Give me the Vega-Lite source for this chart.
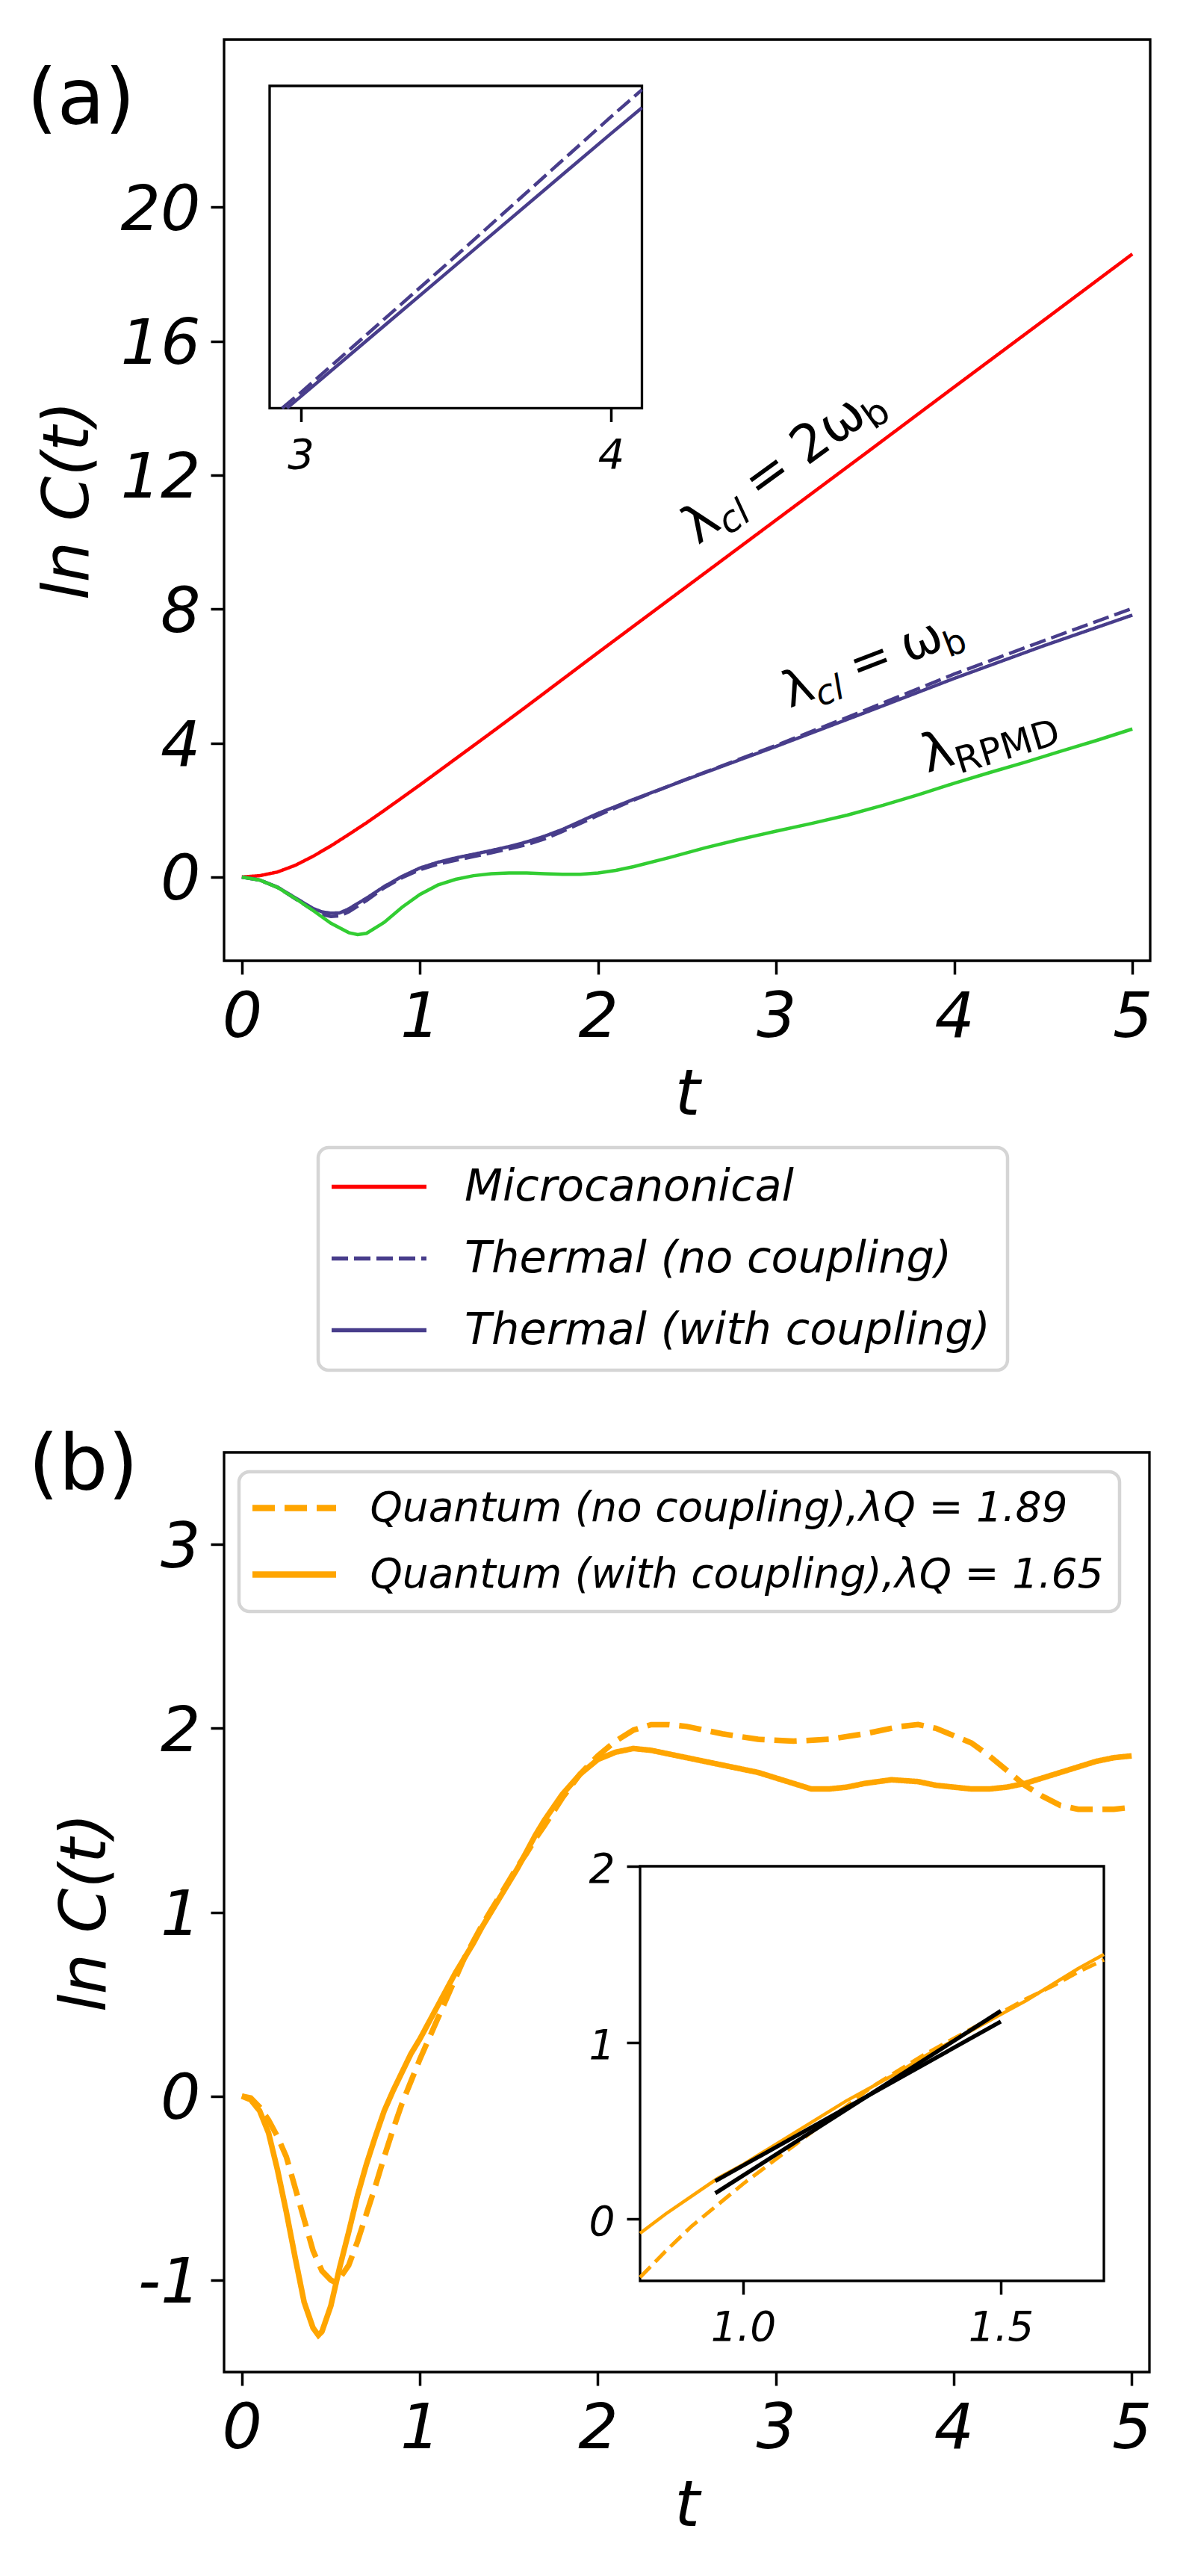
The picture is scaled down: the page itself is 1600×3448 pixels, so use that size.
{
"$schema": "https://vega.github.io/schema/vega-lite/v6.json",
"background": "white",
"padding": {"left": 34, "top": 51, "right": 5, "bottom": 5},
"spacing": 71,
"resolve": {"scale": {"color": "independent", "strokeDash": "independent"}},
"config": {
  "font": "DejaVu Sans",
  "view": {"stroke": "black", "strokeWidth": 3.3},
  "axis": {"domain": false, "grid": false, "tickColor": "black", "tickWidth": 3.5, "tickSize": 18, "labelFont": "DejaVu Sans", "labelFontStyle": "italic", "labelFontSize": 84, "labelColor": "black", "labelFlush": false, "labelOverlap": false, "labelBound": false, "titleFont": "DejaVu Sans", "titleFontStyle": "italic", "titleFontWeight": "normal", "titleFontSize": 86, "titleColor": "black"},
  "axisX": {"labelPadding": 17, "titlePadding": 19},
  "axisY": {"labelPadding": 14, "titlePadding": 26},
  "legend": {"labelFont": "DejaVu Sans", "labelFontStyle": "italic", "labelColor": "black", "labelLimit": 0, "fillColor": "white", "strokeColor": "#d5d5d5", "strokeWidth": 4.5, "cornerRadius": 14, "symbolType": "M-4,0H4"},
  "line": {"strokeCap": "butt"}
},
"datasets": {
  "panelA": [
    {"t":0,"y":0,"series":"Microcanonical"},{"t":0.1,"y":0.04,"series":"Microcanonical"},{"t":0.2,"y":0.15,"series":"Microcanonical"},{"t":0.3,"y":0.35,"series":"Microcanonical"},{"t":0.4,"y":0.62,"series":"Microcanonical"},{"t":0.5,"y":0.93,"series":"Microcanonical"},{"t":0.6,"y":1.27,"series":"Microcanonical"},{"t":0.7,"y":1.62,"series":"Microcanonical"},{"t":0.8,"y":1.99,"series":"Microcanonical"},{"t":0.9,"y":2.37,"series":"Microcanonical"},{"t":1,"y":2.75,"series":"Microcanonical"},{"t":1.2,"y":3.53,"series":"Microcanonical"},{"t":1.4,"y":4.31,"series":"Microcanonical"},{"t":1.6,"y":5.1,"series":"Microcanonical"},{"t":1.8,"y":5.9,"series":"Microcanonical"},{"t":2,"y":6.7,"series":"Microcanonical"},{"t":2.5,"y":8.68,"series":"Microcanonical"},{"t":3,"y":10.66,"series":"Microcanonical"},{"t":3.5,"y":12.64,"series":"Microcanonical"},{"t":4,"y":14.63,"series":"Microcanonical"},{"t":4.5,"y":16.61,"series":"Microcanonical"},{"t":5,"y":18.6,"series":"Microcanonical"},
    {"t":0,"y":0,"series":"Thermal (no coupling)"},{"t":0.1,"y":-0.09,"series":"Thermal (no coupling)"},{"t":0.2,"y":-0.31,"series":"Thermal (no coupling)"},{"t":0.3,"y":-0.65,"series":"Thermal (no coupling)"},{"t":0.4,"y":-0.99,"series":"Thermal (no coupling)"},{"t":0.45,"y":-1.12,"series":"Thermal (no coupling)"},{"t":0.5,"y":-1.18,"series":"Thermal (no coupling)"},{"t":0.55,"y":-1.16,"series":"Thermal (no coupling)"},{"t":0.6,"y":-1.04,"series":"Thermal (no coupling)"},{"t":0.7,"y":-0.7,"series":"Thermal (no coupling)"},{"t":0.8,"y":-0.32,"series":"Thermal (no coupling)"},{"t":0.9,"y":-0.02,"series":"Thermal (no coupling)"},{"t":1,"y":0.22,"series":"Thermal (no coupling)"},{"t":1.1,"y":0.38,"series":"Thermal (no coupling)"},{"t":1.2,"y":0.5,"series":"Thermal (no coupling)"},{"t":1.3,"y":0.61,"series":"Thermal (no coupling)"},{"t":1.4,"y":0.72,"series":"Thermal (no coupling)"},{"t":1.5,"y":0.84,"series":"Thermal (no coupling)"},{"t":1.6,"y":0.97,"series":"Thermal (no coupling)"},{"t":1.7,"y":1.14,"series":"Thermal (no coupling)"},{"t":1.8,"y":1.36,"series":"Thermal (no coupling)"},{"t":1.9,"y":1.6,"series":"Thermal (no coupling)"},{"t":2,"y":1.84,"series":"Thermal (no coupling)"},{"t":2.2,"y":2.3,"series":"Thermal (no coupling)"},{"t":2.5,"y":2.93,"series":"Thermal (no coupling)"},{"t":3,"y":3.93,"series":"Thermal (no coupling)"},{"t":3.5,"y":4.98,"series":"Thermal (no coupling)"},{"t":4,"y":6.06,"series":"Thermal (no coupling)"},{"t":4.5,"y":7.05,"series":"Thermal (no coupling)"},{"t":5,"y":8.02,"series":"Thermal (no coupling)"},
    {"t":0,"y":0,"series":"Thermal (with coupling)"},{"t":0.1,"y":-0.09,"series":"Thermal (with coupling)"},{"t":0.2,"y":-0.3,"series":"Thermal (with coupling)"},{"t":0.3,"y":-0.62,"series":"Thermal (with coupling)"},{"t":0.4,"y":-0.94,"series":"Thermal (with coupling)"},{"t":0.45,"y":-1.04,"series":"Thermal (with coupling)"},{"t":0.5,"y":-1.08,"series":"Thermal (with coupling)"},{"t":0.55,"y":-1.07,"series":"Thermal (with coupling)"},{"t":0.6,"y":-0.95,"series":"Thermal (with coupling)"},{"t":0.7,"y":-0.63,"series":"Thermal (with coupling)"},{"t":0.8,"y":-0.28,"series":"Thermal (with coupling)"},{"t":0.9,"y":0.02,"series":"Thermal (with coupling)"},{"t":1,"y":0.27,"series":"Thermal (with coupling)"},{"t":1.1,"y":0.44,"series":"Thermal (with coupling)"},{"t":1.2,"y":0.57,"series":"Thermal (with coupling)"},{"t":1.3,"y":0.68,"series":"Thermal (with coupling)"},{"t":1.4,"y":0.79,"series":"Thermal (with coupling)"},{"t":1.5,"y":0.91,"series":"Thermal (with coupling)"},{"t":1.6,"y":1.05,"series":"Thermal (with coupling)"},{"t":1.7,"y":1.22,"series":"Thermal (with coupling)"},{"t":1.8,"y":1.42,"series":"Thermal (with coupling)"},{"t":1.9,"y":1.66,"series":"Thermal (with coupling)"},{"t":2,"y":1.9,"series":"Thermal (with coupling)"},{"t":2.2,"y":2.32,"series":"Thermal (with coupling)"},{"t":2.5,"y":2.92,"series":"Thermal (with coupling)"},{"t":3,"y":3.9,"series":"Thermal (with coupling)"},{"t":3.5,"y":4.91,"series":"Thermal (with coupling)"},{"t":4,"y":5.93,"series":"Thermal (with coupling)"},{"t":4.5,"y":6.9,"series":"Thermal (with coupling)"},{"t":5,"y":7.82,"series":"Thermal (with coupling)"},
    {"t":0,"y":0,"series":"RPMD"},{"t":0.1,"y":-0.09,"series":"RPMD"},{"t":0.2,"y":-0.31,"series":"RPMD"},{"t":0.3,"y":-0.64,"series":"RPMD"},{"t":0.4,"y":-1.0,"series":"RPMD"},{"t":0.5,"y":-1.38,"series":"RPMD"},{"t":0.6,"y":-1.66,"series":"RPMD"},{"t":0.65,"y":-1.72,"series":"RPMD"},{"t":0.7,"y":-1.68,"series":"RPMD"},{"t":0.8,"y":-1.35,"series":"RPMD"},{"t":0.9,"y":-0.9,"series":"RPMD"},{"t":1,"y":-0.52,"series":"RPMD"},{"t":1.1,"y":-0.24,"series":"RPMD"},{"t":1.2,"y":-0.07,"series":"RPMD"},{"t":1.3,"y":0.04,"series":"RPMD"},{"t":1.4,"y":0.1,"series":"RPMD"},{"t":1.5,"y":0.12,"series":"RPMD"},{"t":1.6,"y":0.12,"series":"RPMD"},{"t":1.7,"y":0.1,"series":"RPMD"},{"t":1.8,"y":0.08,"series":"RPMD"},{"t":1.9,"y":0.08,"series":"RPMD"},{"t":2,"y":0.12,"series":"RPMD"},{"t":2.1,"y":0.2,"series":"RPMD"},{"t":2.2,"y":0.31,"series":"RPMD"},{"t":2.4,"y":0.58,"series":"RPMD"},{"t":2.6,"y":0.87,"series":"RPMD"},{"t":2.8,"y":1.13,"series":"RPMD"},{"t":3,"y":1.37,"series":"RPMD"},{"t":3.2,"y":1.6,"series":"RPMD"},{"t":3.4,"y":1.85,"series":"RPMD"},{"t":3.6,"y":2.14,"series":"RPMD"},{"t":3.8,"y":2.46,"series":"RPMD"},{"t":4,"y":2.8,"series":"RPMD"},{"t":4.2,"y":3.12,"series":"RPMD"},{"t":4.4,"y":3.43,"series":"RPMD"},{"t":4.6,"y":3.76,"series":"RPMD"},{"t":4.8,"y":4.08,"series":"RPMD"},{"t":5,"y":4.42,"series":"RPMD"}
  ],
  "insetA": [
    {"t":2.94,"y":3.8,"series":"no"},{"t":3,"y":3.92,"series":"no"},{"t":3.5,"y":4.98,"series":"no"},{"t":4,"y":6.06,"series":"no"},{"t":4.1,"y":6.27,"series":"no"},
    {"t":2.956,"y":3.8,"series":"with"},{"t":3,"y":3.89,"series":"with"},{"t":3.5,"y":4.91,"series":"with"},{"t":4,"y":5.93,"series":"with"},{"t":4.1,"y":6.13,"series":"with"}
  ],
  "quantum": [
    {"t":0,"y":0,"series":"Quantum (no coupling),λQ = 1.89"},{"t":0.05,"y":-0.01,"series":"Quantum (no coupling),λQ = 1.89"},{"t":0.1,"y":-0.06,"series":"Quantum (no coupling),λQ = 1.89"},{"t":0.15,"y":-0.13,"series":"Quantum (no coupling),λQ = 1.89"},{"t":0.2,"y":-0.22,"series":"Quantum (no coupling),λQ = 1.89"},{"t":0.25,"y":-0.33,"series":"Quantum (no coupling),λQ = 1.89"},{"t":0.3,"y":-0.5,"series":"Quantum (no coupling),λQ = 1.89"},{"t":0.35,"y":-0.67,"series":"Quantum (no coupling),λQ = 1.89"},{"t":0.4,"y":-0.84,"series":"Quantum (no coupling),λQ = 1.89"},{"t":0.45,"y":-0.95,"series":"Quantum (no coupling),λQ = 1.89"},{"t":0.5,"y":-1.0,"series":"Quantum (no coupling),λQ = 1.89"},{"t":0.52,"y":-1.01,"series":"Quantum (no coupling),λQ = 1.89"},{"t":0.55,"y":-0.99,"series":"Quantum (no coupling),λQ = 1.89"},{"t":0.6,"y":-0.92,"series":"Quantum (no coupling),λQ = 1.89"},{"t":0.65,"y":-0.79,"series":"Quantum (no coupling),λQ = 1.89"},{"t":0.7,"y":-0.64,"series":"Quantum (no coupling),λQ = 1.89"},{"t":0.75,"y":-0.49,"series":"Quantum (no coupling),λQ = 1.89"},{"t":0.8,"y":-0.33,"series":"Quantum (no coupling),λQ = 1.89"},{"t":0.85,"y":-0.18,"series":"Quantum (no coupling),λQ = 1.89"},{"t":0.9,"y":-0.04,"series":"Quantum (no coupling),λQ = 1.89"},{"t":0.95,"y":0.08,"series":"Quantum (no coupling),λQ = 1.89"},{"t":1,"y":0.2,"series":"Quantum (no coupling),λQ = 1.89"},{"t":1.05,"y":0.31,"series":"Quantum (no coupling),λQ = 1.89"},{"t":1.1,"y":0.42,"series":"Quantum (no coupling),λQ = 1.89"},{"t":1.15,"y":0.53,"series":"Quantum (no coupling),λQ = 1.89"},{"t":1.2,"y":0.64,"series":"Quantum (no coupling),λQ = 1.89"},{"t":1.25,"y":0.75,"series":"Quantum (no coupling),λQ = 1.89"},{"t":1.3,"y":0.84,"series":"Quantum (no coupling),λQ = 1.89"},{"t":1.35,"y":0.93,"series":"Quantum (no coupling),λQ = 1.89"},{"t":1.4,"y":1.01,"series":"Quantum (no coupling),λQ = 1.89"},{"t":1.45,"y":1.09,"series":"Quantum (no coupling),λQ = 1.89"},{"t":1.5,"y":1.17,"series":"Quantum (no coupling),λQ = 1.89"},{"t":1.55,"y":1.25,"series":"Quantum (no coupling),λQ = 1.89"},{"t":1.6,"y":1.32,"series":"Quantum (no coupling),λQ = 1.89"},{"t":1.65,"y":1.4,"series":"Quantum (no coupling),λQ = 1.89"},{"t":1.7,"y":1.47,"series":"Quantum (no coupling),λQ = 1.89"},{"t":1.8,"y":1.62,"series":"Quantum (no coupling),λQ = 1.89"},{"t":1.9,"y":1.75,"series":"Quantum (no coupling),λQ = 1.89"},{"t":2,"y":1.85,"series":"Quantum (no coupling),λQ = 1.89"},{"t":2.1,"y":1.93,"series":"Quantum (no coupling),λQ = 1.89"},{"t":2.2,"y":1.99,"series":"Quantum (no coupling),λQ = 1.89"},{"t":2.3,"y":2.02,"series":"Quantum (no coupling),λQ = 1.89"},{"t":2.4,"y":2.02,"series":"Quantum (no coupling),λQ = 1.89"},{"t":2.5,"y":2.01,"series":"Quantum (no coupling),λQ = 1.89"},{"t":2.7,"y":1.97,"series":"Quantum (no coupling),λQ = 1.89"},{"t":2.9,"y":1.94,"series":"Quantum (no coupling),λQ = 1.89"},{"t":3.1,"y":1.93,"series":"Quantum (no coupling),λQ = 1.89"},{"t":3.3,"y":1.94,"series":"Quantum (no coupling),λQ = 1.89"},{"t":3.5,"y":1.97,"series":"Quantum (no coupling),λQ = 1.89"},{"t":3.7,"y":2.01,"series":"Quantum (no coupling),λQ = 1.89"},{"t":3.8,"y":2.02,"series":"Quantum (no coupling),λQ = 1.89"},{"t":3.9,"y":2.0,"series":"Quantum (no coupling),λQ = 1.89"},{"t":4,"y":1.96,"series":"Quantum (no coupling),λQ = 1.89"},{"t":4.1,"y":1.92,"series":"Quantum (no coupling),λQ = 1.89"},{"t":4.2,"y":1.85,"series":"Quantum (no coupling),λQ = 1.89"},{"t":4.3,"y":1.77,"series":"Quantum (no coupling),λQ = 1.89"},{"t":4.4,"y":1.69,"series":"Quantum (no coupling),λQ = 1.89"},{"t":4.5,"y":1.63,"series":"Quantum (no coupling),λQ = 1.89"},{"t":4.6,"y":1.58,"series":"Quantum (no coupling),λQ = 1.89"},{"t":4.7,"y":1.56,"series":"Quantum (no coupling),λQ = 1.89"},{"t":4.8,"y":1.56,"series":"Quantum (no coupling),λQ = 1.89"},{"t":4.9,"y":1.56,"series":"Quantum (no coupling),λQ = 1.89"},{"t":5,"y":1.57,"series":"Quantum (no coupling),λQ = 1.89"},
    {"t":0,"y":0,"series":"Quantum (with coupling),λQ = 1.65"},{"t":0.05,"y":-0.02,"series":"Quantum (with coupling),λQ = 1.65"},{"t":0.1,"y":-0.08,"series":"Quantum (with coupling),λQ = 1.65"},{"t":0.15,"y":-0.2,"series":"Quantum (with coupling),λQ = 1.65"},{"t":0.2,"y":-0.4,"series":"Quantum (with coupling),λQ = 1.65"},{"t":0.25,"y":-0.63,"series":"Quantum (with coupling),λQ = 1.65"},{"t":0.3,"y":-0.88,"series":"Quantum (with coupling),λQ = 1.65"},{"t":0.35,"y":-1.12,"series":"Quantum (with coupling),λQ = 1.65"},{"t":0.4,"y":-1.26,"series":"Quantum (with coupling),λQ = 1.65"},{"t":0.43,"y":-1.3,"series":"Quantum (with coupling),λQ = 1.65"},{"t":0.45,"y":-1.28,"series":"Quantum (with coupling),λQ = 1.65"},{"t":0.5,"y":-1.14,"series":"Quantum (with coupling),λQ = 1.65"},{"t":0.55,"y":-0.93,"series":"Quantum (with coupling),λQ = 1.65"},{"t":0.6,"y":-0.74,"series":"Quantum (with coupling),λQ = 1.65"},{"t":0.65,"y":-0.54,"series":"Quantum (with coupling),λQ = 1.65"},{"t":0.7,"y":-0.37,"series":"Quantum (with coupling),λQ = 1.65"},{"t":0.75,"y":-0.22,"series":"Quantum (with coupling),λQ = 1.65"},{"t":0.8,"y":-0.08,"series":"Quantum (with coupling),λQ = 1.65"},{"t":0.85,"y":0.03,"series":"Quantum (with coupling),λQ = 1.65"},{"t":0.9,"y":0.13,"series":"Quantum (with coupling),λQ = 1.65"},{"t":0.95,"y":0.23,"series":"Quantum (with coupling),λQ = 1.65"},{"t":1,"y":0.31,"series":"Quantum (with coupling),λQ = 1.65"},{"t":1.05,"y":0.4,"series":"Quantum (with coupling),λQ = 1.65"},{"t":1.1,"y":0.49,"series":"Quantum (with coupling),λQ = 1.65"},{"t":1.15,"y":0.58,"series":"Quantum (with coupling),λQ = 1.65"},{"t":1.2,"y":0.67,"series":"Quantum (with coupling),λQ = 1.65"},{"t":1.25,"y":0.75,"series":"Quantum (with coupling),λQ = 1.65"},{"t":1.3,"y":0.83,"series":"Quantum (with coupling),λQ = 1.65"},{"t":1.35,"y":0.92,"series":"Quantum (with coupling),λQ = 1.65"},{"t":1.4,"y":1.0,"series":"Quantum (with coupling),λQ = 1.65"},{"t":1.45,"y":1.08,"series":"Quantum (with coupling),λQ = 1.65"},{"t":1.5,"y":1.16,"series":"Quantum (with coupling),λQ = 1.65"},{"t":1.55,"y":1.24,"series":"Quantum (with coupling),λQ = 1.65"},{"t":1.6,"y":1.33,"series":"Quantum (with coupling),λQ = 1.65"},{"t":1.65,"y":1.42,"series":"Quantum (with coupling),λQ = 1.65"},{"t":1.7,"y":1.5,"series":"Quantum (with coupling),λQ = 1.65"},{"t":1.8,"y":1.64,"series":"Quantum (with coupling),λQ = 1.65"},{"t":1.9,"y":1.75,"series":"Quantum (with coupling),λQ = 1.65"},{"t":2,"y":1.83,"series":"Quantum (with coupling),λQ = 1.65"},{"t":2.1,"y":1.87,"series":"Quantum (with coupling),λQ = 1.65"},{"t":2.2,"y":1.89,"series":"Quantum (with coupling),λQ = 1.65"},{"t":2.3,"y":1.88,"series":"Quantum (with coupling),λQ = 1.65"},{"t":2.4,"y":1.86,"series":"Quantum (with coupling),λQ = 1.65"},{"t":2.5,"y":1.84,"series":"Quantum (with coupling),λQ = 1.65"},{"t":2.7,"y":1.8,"series":"Quantum (with coupling),λQ = 1.65"},{"t":2.9,"y":1.76,"series":"Quantum (with coupling),λQ = 1.65"},{"t":3,"y":1.73,"series":"Quantum (with coupling),λQ = 1.65"},{"t":3.1,"y":1.7,"series":"Quantum (with coupling),λQ = 1.65"},{"t":3.2,"y":1.67,"series":"Quantum (with coupling),λQ = 1.65"},{"t":3.3,"y":1.67,"series":"Quantum (with coupling),λQ = 1.65"},{"t":3.4,"y":1.68,"series":"Quantum (with coupling),λQ = 1.65"},{"t":3.5,"y":1.7,"series":"Quantum (with coupling),λQ = 1.65"},{"t":3.65,"y":1.72,"series":"Quantum (with coupling),λQ = 1.65"},{"t":3.8,"y":1.71,"series":"Quantum (with coupling),λQ = 1.65"},{"t":3.9,"y":1.69,"series":"Quantum (with coupling),λQ = 1.65"},{"t":4,"y":1.68,"series":"Quantum (with coupling),λQ = 1.65"},{"t":4.1,"y":1.67,"series":"Quantum (with coupling),λQ = 1.65"},{"t":4.2,"y":1.67,"series":"Quantum (with coupling),λQ = 1.65"},{"t":4.3,"y":1.68,"series":"Quantum (with coupling),λQ = 1.65"},{"t":4.4,"y":1.7,"series":"Quantum (with coupling),λQ = 1.65"},{"t":4.5,"y":1.73,"series":"Quantum (with coupling),λQ = 1.65"},{"t":4.6,"y":1.76,"series":"Quantum (with coupling),λQ = 1.65"},{"t":4.7,"y":1.79,"series":"Quantum (with coupling),λQ = 1.65"},{"t":4.8,"y":1.82,"series":"Quantum (with coupling),λQ = 1.65"},{"t":4.9,"y":1.84,"series":"Quantum (with coupling),λQ = 1.65"},{"t":5,"y":1.85,"series":"Quantum (with coupling),λQ = 1.65"}
  ],
  "fits": [
    {"t":0.946,"y":0.147,"fit":"no"},{"t":1.5,"y":1.18,"fit":"no"},
    {"t":0.946,"y":0.216,"fit":"with"},{"t":1.5,"y":1.12,"fit":"with"}
  ]
},
"vconcat": [
  {
    "width": 1240, "height": 1233,
    "resolve": {"scale": {"x": "independent", "y": "independent"}},
    "layer": [
      {"layer": [
        {"data": {"name": "panelA"},
         "transform": [{"filter": {"field": "series", "oneOf": ["Microcanonical","Thermal (no coupling)","Thermal (with coupling)"]}}],
         "mark": {"type": "line", "strokeWidth": 4.5},
         "encoding": {
           "x": {"field": "t", "type": "quantitative", "scale": {"domain": [-0.1, 5.1], "nice": false, "zero": false}, "axis": {"values": [0,1,2,3,4,5], "title": "t", "format": "d"}},
           "y": {"field": "y", "type": "quantitative", "scale": {"domain": [-2.5, 25], "nice": false, "zero": false}, "axis": {"values": [0,4,8,12,16,20], "title": "ln C(t)", "format": "d", "labelOffset": 5}},
           "color": {"field": "series", "type": "nominal", "scale": {"domain": ["Microcanonical","Thermal (no coupling)","Thermal (with coupling)"], "range": ["#ff0000","#483d8b","#483d8b"]},
             "legend": {"title": null, "orient": "none", "legendX": 126, "legendY": 1483, "labelFontSize": 59, "symbolSize": 1008, "symbolStrokeWidth": 5.5, "symbolOffset": 29, "labelOffset": 85, "padding": 23, "rowPadding": 36}},
           "strokeDash": {"field": "series", "type": "nominal", "scale": {"domain": ["Microcanonical","Thermal (no coupling)","Thermal (with coupling)"], "range": [[1,0],[22,8],[1,0]]},
             "legend": {"title": null, "orient": "none", "legendX": 126, "legendY": 1483, "labelFontSize": 59, "symbolSize": 1008, "symbolStrokeWidth": 5.5, "symbolOffset": 29, "labelOffset": 85, "padding": 23, "rowPadding": 36}}
         }},
        {"data": {"name": "panelA"},
         "transform": [{"filter": {"field": "series", "equal": "RPMD"}}],
         "mark": {"type": "line", "strokeWidth": 4.5, "color": "#32cd32"},
         "encoding": {"x": {"field": "t", "type": "quantitative"}, "y": {"field": "y", "type": "quantitative"}}},
        {"data": {"values": [{}]}, "mark": {"type": "text", "text": "(a)", "align": "left", "baseline": "alphabetic", "fontSize": 104, "font": "DejaVu Sans", "color": "black"}, "encoding": {"x": {"datum": -1.207, "type": "quantitative"}, "y": {"datum": 22.47, "type": "quantitative"}}},
        {"data": {"values": [{}]}, "mark": {"type": "text", "text": "λ", "angle": 324, "align": "left", "baseline": "alphabetic", "fontSize": 70, "dx": 0, "dy": 0, "font": "DejaVu Sans", "color": "black"}, "encoding": {"x": {"datum": 2.561, "type": "quantitative"}, "y": {"datum": 9.9, "type": "quantitative"}}},
        {"data": {"values": [{}]}, "mark": {"type": "text", "text": "cl", "angle": 324, "align": "left", "baseline": "alphabetic", "fontSize": 49, "fontStyle": "italic", "dx": 41, "dy": 14, "font": "DejaVu Sans", "color": "black"}, "encoding": {"x": {"datum": 2.561, "type": "quantitative"}, "y": {"datum": 9.9, "type": "quantitative"}}},
        {"data": {"values": [{}]}, "mark": {"type": "text", "text": "=", "angle": 324, "align": "left", "baseline": "alphabetic", "fontSize": 70, "dx": 101, "dy": 0, "font": "DejaVu Sans", "color": "black"}, "encoding": {"x": {"datum": 2.561, "type": "quantitative"}, "y": {"datum": 9.9, "type": "quantitative"}}},
        {"data": {"values": [{}]}, "mark": {"type": "text", "text": "2ω", "angle": 324, "align": "left", "baseline": "alphabetic", "fontSize": 70, "dx": 180, "dy": 0, "font": "DejaVu Sans", "color": "black"}, "encoding": {"x": {"datum": 2.561, "type": "quantitative"}, "y": {"datum": 9.9, "type": "quantitative"}}},
        {"data": {"values": [{}]}, "mark": {"type": "text", "text": "b", "angle": 324, "align": "left", "baseline": "alphabetic", "fontSize": 49, "dx": 281, "dy": 14, "font": "DejaVu Sans", "color": "black"}, "encoding": {"x": {"datum": 2.561, "type": "quantitative"}, "y": {"datum": 9.9, "type": "quantitative"}}},
        {"data": {"values": [{}]}, "mark": {"type": "text", "text": "λ", "angle": 339, "align": "left", "baseline": "alphabetic", "fontSize": 66, "dx": 0, "dy": 0, "font": "DejaVu Sans", "color": "black"}, "encoding": {"x": {"datum": 3.076, "type": "quantitative"}, "y": {"datum": 5.04, "type": "quantitative"}}},
        {"data": {"values": [{}]}, "mark": {"type": "text", "text": "cl", "angle": 339, "align": "left", "baseline": "alphabetic", "fontSize": 46, "fontStyle": "italic", "dx": 39, "dy": 13, "font": "DejaVu Sans", "color": "black"}, "encoding": {"x": {"datum": 3.076, "type": "quantitative"}, "y": {"datum": 5.04, "type": "quantitative"}}},
        {"data": {"values": [{}]}, "mark": {"type": "text", "text": "=", "angle": 339, "align": "left", "baseline": "alphabetic", "fontSize": 66, "dx": 96, "dy": 0, "font": "DejaVu Sans", "color": "black"}, "encoding": {"x": {"datum": 3.076, "type": "quantitative"}, "y": {"datum": 5.04, "type": "quantitative"}}},
        {"data": {"values": [{}]}, "mark": {"type": "text", "text": "ω", "angle": 339, "align": "left", "baseline": "alphabetic", "fontSize": 66, "dx": 169, "dy": 0, "font": "DejaVu Sans", "color": "black"}, "encoding": {"x": {"datum": 3.076, "type": "quantitative"}, "y": {"datum": 5.04, "type": "quantitative"}}},
        {"data": {"values": [{}]}, "mark": {"type": "text", "text": "b", "angle": 339, "align": "left", "baseline": "alphabetic", "fontSize": 46, "dx": 223, "dy": 13, "font": "DejaVu Sans", "color": "black"}, "encoding": {"x": {"datum": 3.076, "type": "quantitative"}, "y": {"datum": 5.04, "type": "quantitative"}}},
        {"data": {"values": [{}]}, "mark": {"type": "text", "text": "λ", "angle": 343, "align": "left", "baseline": "alphabetic", "fontSize": 70, "dx": 0, "dy": 0, "font": "DejaVu Sans", "color": "black"}, "encoding": {"x": {"datum": 3.848, "type": "quantitative"}, "y": {"datum": 3.11, "type": "quantitative"}}},
        {"data": {"values": [{}]}, "mark": {"type": "text", "text": "RPMD", "angle": 343, "align": "left", "baseline": "alphabetic", "fontSize": 49, "dx": 41, "dy": 14, "font": "DejaVu Sans", "color": "black"}, "encoding": {"x": {"datum": 3.848, "type": "quantitative"}, "y": {"datum": 3.11, "type": "quantitative"}}}
      ]},
      {"layer": [
        {"data": {"values": [{}]},
         "mark": {"type": "rect", "fill": "white", "stroke": "black", "strokeWidth": 3.3},
         "encoding": {
           "x": {"datum": 2.9, "type": "quantitative", "scale": {"domain": [2.9, 4.1], "range": [61, 559.5], "nice": false, "zero": false}},
           "x2": {"datum": 4.1},
           "y": {"datum": 3.8, "type": "quantitative", "scale": {"domain": [3.8, 6.3], "range": [493.4, 62], "nice": false, "zero": false}, "axis": null},
           "y2": {"datum": 6.3}
         }},
        {"data": {"name": "insetA"},
         "transform": [{"filter": {"field": "series", "equal": "no"}}],
         "mark": {"type": "line", "color": "#483d8b", "strokeWidth": 4.5, "strokeDash": [22, 8]},
         "encoding": {
           "x": {"field": "t", "type": "quantitative", "axis": {"orient": "bottom", "offset": -739.6, "values": [3, 4], "format": "d", "title": null, "labelFontSize": 56, "labelPadding": 18}},
           "y": {"field": "y", "type": "quantitative", "axis": null}
         }},
        {"data": {"name": "insetA"},
         "transform": [{"filter": {"field": "series", "equal": "with"}}],
         "mark": {"type": "line", "color": "#483d8b", "strokeWidth": 4.5},
         "encoding": {
           "x": {"field": "t", "type": "quantitative"},
           "y": {"field": "y", "type": "quantitative", "axis": null}
         }}
      ]}
    ]
  },
  {
    "width": 1239, "height": 1231,
    "resolve": {"scale": {"x": "independent", "y": "independent"}},
    "layer": [
      {"layer": [
        {"data": {"name": "quantum"},
         "mark": {"type": "line", "strokeWidth": 7.5},
         "encoding": {
           "x": {"field": "t", "type": "quantitative", "scale": {"domain": [-0.1, 5.1], "nice": false, "zero": false}, "axis": {"values": [0,1,2,3,4,5], "title": "t", "format": "d"}},
           "y": {"field": "y", "type": "quantitative", "scale": {"domain": [-1.5, 3.5], "nice": false, "zero": false}, "axis": {"values": [-1,0,1,2,3], "title": "ln C(t)", "labelExpr": "toString(datum.value)", "labelOffset": 5}},
           "color": {"field": "series", "type": "nominal", "scale": {"domain": ["Quantum (no coupling),λQ = 1.89","Quantum (with coupling),λQ = 1.65"], "range": ["#ffa500","#ffa500"]},
             "legend": {"title": null, "orient": "none", "legendX": 20, "legendY": 26, "labelFontSize": 55, "symbolSize": 784, "symbolStrokeWidth": 8.5, "symbolOffset": 25.5, "labelOffset": 74, "padding": 21, "rowPadding": 33}},
           "strokeDash": {"field": "series", "type": "nominal", "scale": {"domain": ["Quantum (no coupling),λQ = 1.89","Quantum (with coupling),λQ = 1.65"], "range": [[30,13],[1,0]]},
             "legend": {"title": null, "orient": "none", "legendX": 20, "legendY": 26, "labelFontSize": 55, "symbolSize": 784, "symbolStrokeWidth": 8.5, "symbolOffset": 25.5, "labelOffset": 74, "padding": 21, "rowPadding": 33}}
         }},
        {"data": {"values": [{}]}, "mark": {"type": "text", "text": "(b)", "align": "left", "baseline": "alphabetic", "fontSize": 104, "font": "DejaVu Sans", "color": "black"}, "encoding": {"x": {"datum": -1.1996, "type": "quantitative"}, "y": {"datum": 3.297, "type": "quantitative"}}}
      ]},
      {"layer": [
        {"data": {"values": [{}]},
         "mark": {"type": "rect", "fill": "white", "stroke": "black", "strokeWidth": 3.3},
         "encoding": {
           "x": {"datum": 0.8, "type": "quantitative", "scale": {"domain": [0.8, 1.7], "range": [557, 1178], "nice": false, "zero": false}},
           "x2": {"datum": 1.7},
           "y": {"datum": -0.35, "type": "quantitative", "scale": {"domain": [-0.35, 2], "range": [1109, 554], "nice": false, "zero": false}},
           "y2": {"datum": 2}
         }},
        {"data": {"name": "quantum"},
         "transform": [{"filter": {"and": [{"field": "t", "range": [0.8, 1.7]}, {"field": "series", "equal": "Quantum (no coupling),λQ = 1.89"}]}}],
         "mark": {"type": "line", "color": "#ffa500", "strokeWidth": 5, "strokeDash": [20, 9]},
         "encoding": {
           "x": {"field": "t", "type": "quantitative", "axis": {"orient": "bottom", "offset": -122, "values": [1.0, 1.5], "format": ".1f", "title": null, "labelFontSize": 55, "labelPadding": 18}},
           "y": {"field": "y", "type": "quantitative", "axis": {"orient": "left", "offset": -557, "values": [0, 1, 2], "format": "d", "title": null, "labelFontSize": 55, "labelPadding": 16, "labelOffset": 4}}
         }},
        {"data": {"name": "quantum"},
         "transform": [{"filter": {"and": [{"field": "t", "range": [0.8, 1.7]}, {"field": "series", "equal": "Quantum (with coupling),λQ = 1.65"}]}}],
         "mark": {"type": "line", "color": "#ffa500", "strokeWidth": 4.5},
         "encoding": {
           "x": {"field": "t", "type": "quantitative"},
           "y": {"field": "y", "type": "quantitative"}
         }},
        {"data": {"name": "fits"},
         "mark": {"type": "line", "color": "black", "strokeWidth": 5.5},
         "encoding": {
           "x": {"field": "t", "type": "quantitative"},
           "y": {"field": "y", "type": "quantitative"},
           "detail": {"field": "fit", "type": "nominal"}
         }}
      ]}
    ]
  }
]
}
